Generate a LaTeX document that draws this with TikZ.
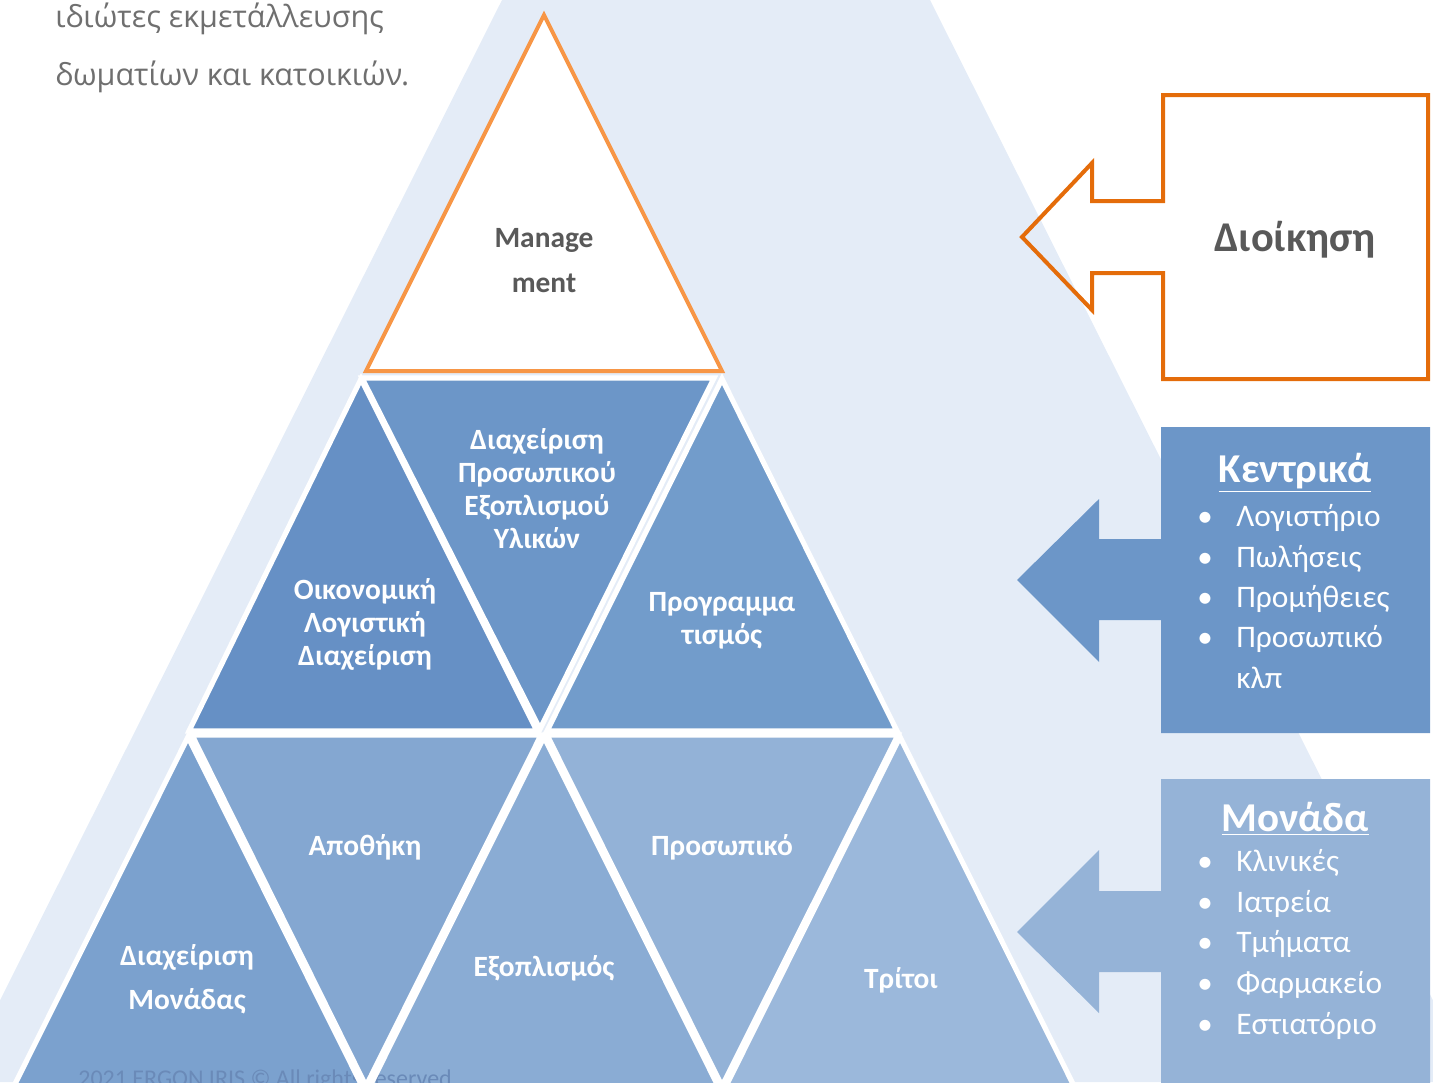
\documentclass[tikz,border=0pt]{standalone}
\usepackage{fontspec}
\setmainfont{Carlito}
\newfontfamily\opensans{Open Sans}
\definecolor{bgblue}{HTML}{E4ECF7}
\definecolor{mgmtorange}{HTML}{F79646}
\definecolor{dioorange}{HTML}{E46C0A}
\definecolor{darkgraytxt}{HTML}{595959}
\definecolor{toptxt}{HTML}{6F6F6F}
\definecolor{footertxt}{HTML}{6A8AB8}
\definecolor{tA}{HTML}{6690C5}
\definecolor{tB}{HTML}{6C96C8}
\definecolor{tC}{HTML}{729CCB}
\definecolor{tD}{HTML}{7BA1CE}
\definecolor{tE}{HTML}{84A7D1}
\definecolor{tF}{HTML}{8AACD4}
\definecolor{tG}{HTML}{93B2D7}
\definecolor{tH}{HTML}{9BB8DB}
\definecolor{kentblue}{HTML}{6C96C8}
\definecolor{monblue}{HTML}{95B3D7}
\begin{document}
\begin{tikzpicture}[x=0.5pt,y=-0.5pt,
  edgewhite/.style={draw=white,line width=2.6pt,line join=miter},
  trilabel/.style={text=white,align=center,font=\bfseries\fontsize{14.7}{16.5}\selectfont,inner sep=0pt},
  trilabelwide/.style={trilabel,font=\bfseries\fontsize{14.7}{22}\selectfont},
  bulletmark/.style={text=white,font=\fontsize{15.5}{18}\selectfont,anchor=base,inner sep=0pt},
  bullettext/.style={text=white,font=\fontsize{15.7}{18}\selectfont,anchor=base west,inner sep=0pt},
  boxtitle/.style={text=white,font=\bfseries\fontsize{20.5}{24}\selectfont,anchor=base,inner sep=0pt}
]
\useasboundingbox (0,0) rectangle (1433,1082);
\clip (0,0) rectangle (1433,1082);
% background band
\fill[bgblue] (502,0) -- (930,0) -- (1474,1082) -- (-41,1082) -- cycle;

% top-left text
\node[anchor=base west,inner sep=0pt,text=toptxt,font=\opensans\fontsize{15.25}{18}\selectfont] (top1) at (55,27) {ιδιώτες εκμετάλλευσης};
\node[anchor=base west,inner sep=0pt,text=toptxt,font=\opensans\fontsize{15.25}{18}\selectfont] (top2) at (55,85) {δωματίων και κατοικιών.};

% triangle coordinates
\coordinate (m1) at (544,15); \coordinate (m2) at (366,371); \coordinate (m3) at (722,371);
\coordinate (a1) at (361,379); \coordinate (a2) at (189,731); \coordinate (a3) at (537,731);
\coordinate (b1) at (362,378); \coordinate (b2) at (714,378); \coordinate (b3) at (540,729);
\coordinate (c1) at (722,379); \coordinate (c2) at (547,731); \coordinate (c3) at (897,731);
\coordinate (d1) at (188,737); \coordinate (d2) at (12,1090); \coordinate (d3) at (364,1090);
\coordinate (e1) at (192,735); \coordinate (e2) at (541,735); \coordinate (e3) at (366,1086);
\coordinate (f1) at (544,737); \coordinate (f2) at (368,1090); \coordinate (f3) at (720,1090);
\coordinate (g1) at (547,735); \coordinate (g2) at (898,735); \coordinate (g3) at (722,1086);
\coordinate (h1) at (900,737); \coordinate (h2) at (724,1090); \coordinate (h3) at (1076,1090);

% fills
\fill[tA] (a1) -- (a2) -- (a3) -- cycle;
\fill[tB] (b1) -- (b2) -- (b3) -- cycle;
\fill[tC] (c1) -- (c2) -- (c3) -- cycle;
\fill[tD] (d1) -- (d2) -- (d3) -- cycle;
\fill[tE] (e1) -- (e2) -- (e3) -- cycle;
\fill[tF] (f1) -- (f2) -- (f3) -- cycle;
\fill[tG] (g1) -- (g2) -- (g3) -- cycle;
\fill[tH] (h1) -- (h2) -- (h3) -- cycle;

% footer
\node[anchor=base west,inner sep=0pt,text=footertxt,font=\fontsize{12}{14}\selectfont] (footer) at (78,1086) {2021 ERGON IRIS © All rights reserved};

% white edges
\draw[edgewhite] (a1) -- (a2) -- (a3) -- cycle;
\draw[edgewhite] (b1) -- (b2) -- (b3) -- cycle;
\draw[edgewhite] (c1) -- (c2) -- (c3) -- cycle;
\draw[edgewhite] (d1) -- (d2) -- (d3) -- cycle;
\draw[edgewhite] (e1) -- (e2) -- (e3) -- cycle;
\draw[edgewhite] (f1) -- (f2) -- (f3) -- cycle;
\draw[edgewhite] (g1) -- (g2) -- (g3) -- cycle;
\draw[edgewhite] (h1) -- (h2) -- (h3) -- cycle;

% management triangle
\filldraw[fill=white,draw=mgmtorange,line width=2pt,line join=miter] (m1) -- (m2) -- (m3) -- cycle;
\node[align=center,inner sep=0pt,text=darkgraytxt,font=\bfseries\fontsize{14.7}{22.5}\selectfont] (mgmt) at (544,261) {Manage\\ment};

% triangle labels
\node[trilabel] (oik) at (365,624) {Οικονομική\\Λογιστική\\Διαχείριση};
\node[trilabel] (diax) at (537,489) {Διαχείριση\\Προσωπικού\\Εξοπλισμού\\Υλικών};
\node[trilabel] (prog) at (722,621) {Προγραμμα\\τισμός};
\node[trilabel] (apoth) at (365,847) {Αποθήκη};
\node[trilabelwide] (monad) at (187,979) {Διαχείριση\\Μονάδας};
\node[trilabel] (exopl) at (544,968) {Εξοπλισμός};
\node[trilabel] (prosw) at (722,847) {Προσωπικό};
\node[trilabel] (tritoi) at (901,980) {Τρίτοι};

% Dioikisi arrow box (outline)
\draw[dioorange,line width=2pt,line join=miter] (1163,95) -- (1428,95) -- (1428,379) -- (1163,379) -- (1163,273) -- (1092,273) -- (1092,310) -- (1022,237) -- (1092,163) -- (1092,201) -- (1163,201) -- cycle;
\node[inner sep=0pt,text=darkgraytxt,font=\bfseries\fontsize{21.2}{25}\selectfont] (dioik) at (1295,240) {Διοίκηση};

% Kentrika arrow box
\fill[kentblue] (1161,427) -- (1430,427) -- (1430,733) -- (1161,733) -- (1161,620) -- (1099,620) -- (1099,662) -- (1017,580) -- (1099,499) -- (1099,539) -- (1161,539) -- cycle;
\node[boxtitle] (kentT) at (1295,482) {\underline{Κεντρικά}};
\foreach \yy/\tx/\nm in {526/Λογιστήριο/k1,567/Πωλήσεις/k2,607/Προμήθειες/k3,647/Προσωπικό/k4}{
  \node[bulletmark] (\nm b) at (1205,\yy) {•};
  \node[bullettext] (\nm) at (1236,\yy) {\tx};
}
\node[bullettext] (k5) at (1236,688) {κλπ};

% Monada arrow box
\fill[monblue] (1161,779) -- (1430,779) -- (1430,1090) -- (1161,1090) -- (1161,972) -- (1099,972) -- (1099,1013) -- (1017,932) -- (1099,850) -- (1099,891) -- (1161,891) -- cycle;
\node[boxtitle] (monT) at (1295,831) {\underline{Μονάδα}};
\foreach \yy/\tx/\nm in {871/Κλινικές/n1,912/Ιατρεία/n2,952/Τμήματα/n3,993/Φαρμακείο/n4,1034/Εστιατόριο/n5}{
  \node[bulletmark] (\nm b) at (1205,\yy) {•};
  \node[bullettext] (\nm) at (1236,\yy) {\tx};
}
\end{tikzpicture}
\end{document}
